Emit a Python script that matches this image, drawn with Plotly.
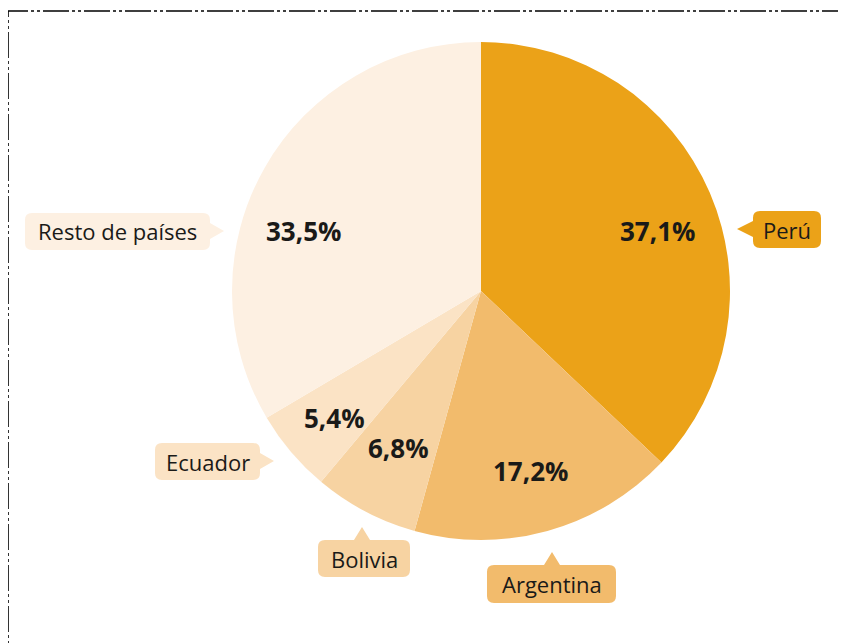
import math
import plotly.graph_objects as go

# ---- data ----
countries = ["Perú", "Argentina", "Bolivia", "Ecuador", "Resto de países"]
shares = [37.1, 17.2, 6.8, 5.4, 33.5]

# ---- styles ----
slice_colors = ["#EBA218", "#F2BB6C", "#F7D3A2", "#FBE3C5", "#FDF0E2"]
W, H = 846, 643
OFF = 8                            # page body margin
CX, CY, R = 481, 291, 249          # pie centre / radius in pixels (window coords)
FONT = "Open Sans"
TXT = "#1a1a18"

def px(x):
    return (x - OFF) / W

def py(y):
    return 1 - (y - OFF) / H

fig = go.Figure(go.Pie(
    labels=countries,
    values=shares,
    sort=False,
    direction="clockwise",
    rotation=0,
    marker=dict(colors=slice_colors, line=dict(width=0)),
    textinfo="none",
    hoverinfo="label+percent",
    showlegend=False,
    domain=dict(x=[px(CX - R), px(CX + R)], y=[py(CY + R), py(CY - R)]),
))

# ---- percentage labels at the middle angle of each slice ----
nudges = {"Perú": (5, 14), "Resto de países": (-15, 33),
          "Ecuador": (-4, 6), "Bolivia": (4, -8)}
rf = 0.75
total = sum(shares)
cum = 0.0
annotations = []
for name, v in zip(countries, shares):
    mid = (cum + v / 2) / total * 2 * math.pi
    cum += v
    dx, dy = nudges.get(name, (0, 0))
    x = CX + rf * R * math.sin(mid) + dx
    y = CY - rf * R * math.cos(mid) + dy
    annotations.append(dict(
        x=px(x), y=py(y), xref="paper", yref="paper",
        text="<b>" + f"{v:.1f}".replace(".", ",") + "%</b>",
        showarrow=False, font=dict(family=FONT, size=26, color=TXT),
        xanchor="center", yanchor="middle",
    ))

# ---- callout boxes (pixel geometry) ----
callouts = {
    "Perú":            dict(box=(753, 211, 821, 248), tip=(737, 229), side="left"),
    "Resto de países": dict(box=(25, 213, 210, 250),  tip=(224, 231), side="right"),
    "Ecuador":         dict(box=(155, 443, 260, 480), tip=(274, 461), side="right"),
    "Bolivia":         dict(box=(318, 540, 410, 577), tip=(362, 527), side="top"),
    "Argentina":       dict(box=(487, 565, 616, 603), tip=(552, 552), side="top"),
}

def callout_path(box, tip, side, r=7, hw=8):
    x0, y0, x1, y1 = box
    tx, ty = tip
    P = lambda x, y: f"{px(x):.5f},{py(y):.5f}"
    s = f"M {P(x0 + r, y0)} "
    if side == "top":
        s += f"L {P(tx - hw, y0)} L {P(tx, ty)} L {P(tx + hw, y0)} "
    s += f"L {P(x1 - r, y0)} Q {P(x1, y0)} {P(x1, y0 + r)} "
    if side == "right":
        s += f"L {P(x1, ty - hw)} L {P(tx, ty)} L {P(x1, ty + hw)} "
    s += f"L {P(x1, y1 - r)} Q {P(x1, y1)} {P(x1 - r, y1)} "
    s += f"L {P(x0 + r, y1)} Q {P(x0, y1)} {P(x0, y1 - r)} "
    if side == "left":
        s += f"L {P(x0, ty + hw)} L {P(tx, ty)} L {P(x0, ty - hw)} "
    s += f"L {P(x0, y0 + r)} Q {P(x0, y0)} {P(x0 + r, y0)} Z"
    return s

shapes = []
for name, col in zip(countries, slice_colors):
    c = callouts[name]
    shapes.append(dict(
        type="path", xref="paper", yref="paper",
        path=callout_path(c["box"], c["tip"], c["side"]),
        fillcolor=col, line=dict(width=0), layer="above",
    ))
    x0, y0, x1, y1 = c["box"]
    annotations.append(dict(
        x=px((x0 + x1) / 2), y=py((y0 + y1) / 2), xref="paper", yref="paper",
        text=name, showarrow=False,
        font=dict(family=FONT, size=22, color=TXT),
        xanchor="center", yanchor="middle",
    ))

# dash-dot frame (top and left edges visible)
shapes.append(dict(
    type="rect", xref="paper", yref="paper",
    x0=px(8), y0=py(H + 30), x1=px(W + 30), y1=py(11),
    line=dict(color="#000000", width=1.6, dash="26px,3px,3px,3px,3px,3px"),
    fillcolor="rgba(0,0,0,0)", layer="above",
))

fig.update_layout(
    width=W, height=H,
    margin=dict(l=0, r=0, t=0, b=0),
    paper_bgcolor="white", plot_bgcolor="white",
    shapes=shapes, annotations=annotations,
    font=dict(family=FONT),
)

fig.write_html("out.html")
